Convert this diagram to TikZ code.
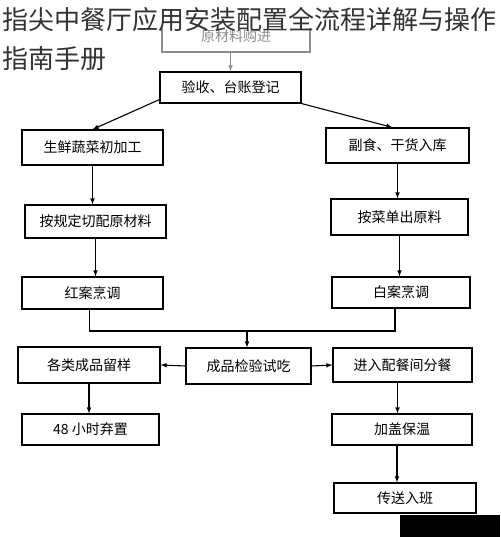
\documentclass[tikz,border=0pt]{standalone}
\usepackage{fontspec}
\setmainfont{Noto Sans CJK SC}
\begin{document}
\begin{tikzpicture}[x=1pt, y=-1pt]
            \tikzstyle{box} = [draw=black, line width=1.1pt, inner sep=0pt, font=\fontsize{14}{16}\selectfont]
            \tikzstyle{graybox} = [box, draw=black!45, text=black!45]
            \tikzstyle{arrow} = [->, >=latex, line width=1.1pt]
            \tikzstyle{link} = [line width=1.1pt]
            \useasboundingbox (0, 0) rectangle (500, 537);

            \node[graybox, minimum width=148pt, minimum height=31pt] (buy) at (236, 36.5) {原材料购进};
            \fill[white] (150, 0) rectangle (330, 28);
            \node[anchor=base west, inner sep=0pt, text=black!80, font=\fontsize{26}{26}\selectfont] (title1) at (2, 29.5) {指尖中餐厅应用安装配置全流程详解与操作};
            \node[anchor=base west, inner sep=0pt, text=black!80, font=\fontsize{26}{26}\selectfont] (title2) at (2, 68.5) {指南手册};

            \node[box, minimum width=141pt, minimum height=31pt] (check) at (230.5, 87.5) {验收、台账登记};
            \node[box, minimum width=141pt, minimum height=35pt] (fresh) at (92.5, 147.5) {生鲜蔬菜初加工};
            \node[box, minimum width=143pt, minimum height=35pt] (dry) at (397.5, 145.5) {副食、干货入库};
            \node[box, minimum width=141pt, minimum height=33pt] (cut) at (95.5, 221.5) {按规定切配原材料};
            \node[box, minimum width=137pt, minimum height=36pt] (menu) at (399.5, 217) {按菜单出原料};
            \node[box, minimum width=141pt, minimum height=32pt] (red) at (92.5, 293) {红案烹调};
            \node[box, minimum width=138pt, minimum height=31pt] (white) at (401, 292.5) {白案烹调};
            \node[box, minimum width=142pt, minimum height=36pt] (sample) at (89, 365) {各类成品留样};
            \node[box, minimum width=125pt, minimum height=36pt] (taste) at (248.5, 366) {成品检验试吃};
            \node[box, minimum width=139pt, minimum height=34pt] (serve) at (402.5, 365) {进入配餐间分餐};
            \node[box, minimum width=137pt, minimum height=31pt] (discard) at (90.5, 429.5) {48 小时弃置};
            \node[box, minimum width=140pt, minimum height=31pt] (keep) at (402, 429.5) {加盖保温};
            \node[box, minimum width=142pt, minimum height=30pt] (send) at (405, 498) {传送入班};
            \coordinate (join) at (247, 331);

            \draw[arrow, draw=black!45] (buy.south -| check) -- (check.north);
            \draw[arrow] ([yshift=4pt]check.south west) -- (fresh.north);
            \draw[arrow] (check.south east) -- ([xshift=-5pt]dry.north);
            \draw[arrow] (fresh.south) -- (fresh.south |- cut.north);
            \draw[arrow] (dry.south) -- (dry.south |- menu.north);
            \draw[arrow] (cut.south) -- (cut.south |- red.north);
            \draw[arrow] (menu.south) -- (menu.south |- white.north);
            \draw[link] ([xshift=-3pt]red.south) |- (join) -| ([xshift=-6pt]white.south);
            \draw[arrow] (join) -- (join |- taste.north);
            \draw[arrow] (taste.west) -- (sample.east);
            \draw[arrow] (taste.east) -- (serve.west);
            \draw[arrow] (sample.south) -- (sample.south |- discard.north);
            \draw[arrow] ([xshift=-5pt]serve.south) -- ([xshift=-5pt]serve.south |- keep.north);
            \draw[arrow] ([xshift=-5pt]keep.south) -- ([xshift=-5pt]keep.south |- send.north);

            \fill[black] (400, 515) rectangle (500, 537);
        \end{tikzpicture}
\end{document}
